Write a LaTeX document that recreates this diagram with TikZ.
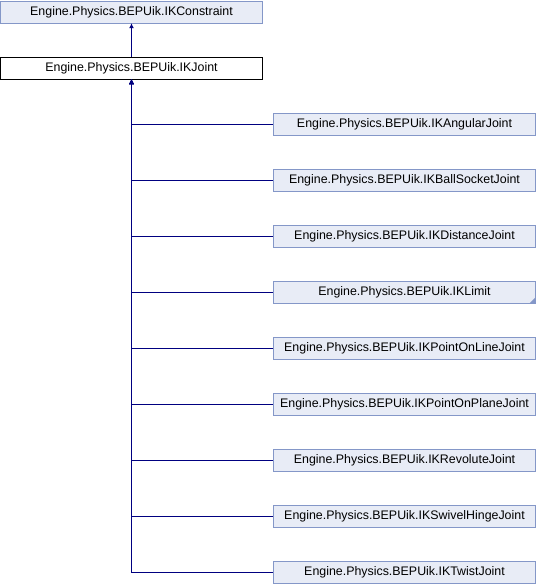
\documentclass[tikz,border=0pt]{standalone}
\usepackage{fontspec}
\setmainfont{Liberation Sans}
\usetikzlibrary{arrows.meta}
\definecolor{boxfill}{HTML}{E8ECF6}
\definecolor{boxline}{HTML}{8497C8}
\definecolor{edgeblue}{HTML}{000080}
\begin{document}
\begin{tikzpicture}[x=1pt, y=-1pt,
cls/.style={draw=boxline, fill=boxfill, rectangle, minimum width=262pt, minimum height=22pt, inner sep=0pt, font=\fontsize{12.4}{14}\selectfont},
cur/.style={cls, draw=black, fill=white},
inh/.style={edgeblue, line width=1pt, {Latex[length=5pt,width=5pt]}-}
]
\useasboundingbox (0,0) rectangle (536,584);
\node[cls] (constraint) at (131.5,12) {Engine.Physics.BEPUik.IKConstraint};
\node[cur] (joint) at (131.5,68) {Engine.Physics.BEPUik.IKJoint};

\node[cls] (angular) at (404.5,124) {Engine.Physics.BEPUik.IKAngularJoint};
\node[cls] (ballsocket) at (404.5,180) {Engine.Physics.BEPUik.IKBallSocketJoint};
\node[cls] (distance) at (404.5,236) {Engine.Physics.BEPUik.IKDistanceJoint};
\node[cls] (limit) at (404.5,292) {Engine.Physics.BEPUik.IKLimit};
\node[cls] (online) at (404.5,348) {Engine.Physics.BEPUik.IKPointOnLineJoint};
\node[cls] (onplane) at (404.5,404) {Engine.Physics.BEPUik.IKPointOnPlaneJoint};
\node[cls] (revolute) at (404.5,460) {Engine.Physics.BEPUik.IKRevoluteJoint};
\node[cls] (swivel) at (404.5,516) {Engine.Physics.BEPUik.IKSwivelHingeJoint};
\node[cls] (twist) at (404.5,572) {Engine.Physics.BEPUik.IKTwistJoint};

% IKLimit has further subclasses
\fill[boxline] ([xshift=-6pt]limit.south east) -- (limit.south east) -- ([yshift=6pt]limit.south east) -- cycle;

\draw[inh] (constraint) -- (joint);
\draw[inh] (joint) |- (angular);
\draw[inh] (joint) |- (ballsocket);
\draw[inh] (joint) |- (distance);
\draw[inh] (joint) |- (limit);
\draw[inh] (joint) |- (online);
\draw[inh] (joint) |- (onplane);
\draw[inh] (joint) |- (revolute);
\draw[inh] (joint) |- (swivel);
\draw[inh] (joint) |- (twist);
\end{tikzpicture}
\end{document}
